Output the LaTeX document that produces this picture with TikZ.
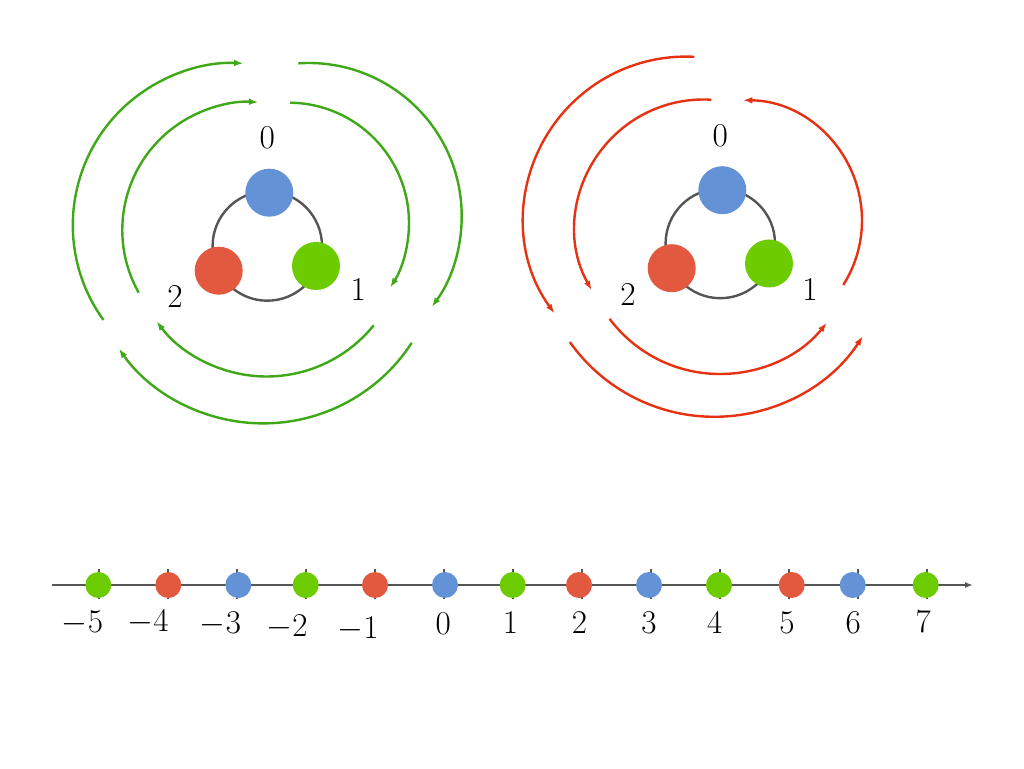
\documentclass[tikz,border=0pt]{standalone}
\usetikzlibrary{arrows.meta}
\definecolor{arcgreen}{RGB}{62,168,22}
\definecolor{arcred}{RGB}{230,50,18}
\definecolor{dotblue}{RGB}{100,146,214}
\definecolor{dotred}{RGB}{227,89,64}
\definecolor{dotgreen}{RGB}{108,204,0}
\definecolor{axisgray}{RGB}{85,85,85}
\begin{document}
\begin{tikzpicture}[x=0.75pt,y=0.75pt,
  bigdot/.style={circle,fill=#1,minimum size=36pt,inner sep=0pt},
  smalldot/.style={circle,fill=#1,minimum size=19.5pt,inner sep=0pt},
  lbl/.style={inner sep=0pt,font=\fontsize{25}{30}\selectfont},
  ringfwd/.style={line width=1.8pt,-{Latex[length=7pt,width=5pt]}},
  ringrev/.style={line width=1.8pt,{Latex[length=7pt,width=5pt]}-},
  hub/.style={draw=axisgray,line width=1.8pt}]
\useasboundingbox (0,0) rectangle (1024,768);

% ---------- left group ----------
\draw[hub] (267.3,522) circle[radius=54.7];
\node[bigdot=dotblue]  (Lb) at (269.3,575.3) {};
\node[bigdot=dotred]   (Lr) at (218.7,497.3) {};
\node[bigdot=dotgreen] (Lg) at (316,502) {};
\node[lbl] (L0) at (267.3,630) {0};
\node[lbl] (L1) at (358.3,479) {1};
\node[lbl] (L2) at (175,471.3) {2};
\begin{scope}[arcgreen]
\draw[ringfwd] (234.8,542.8) ++(215.8:162) arc[start angle=215.8,end angle=87,radius=162];
\draw[ringfwd] (308.7,552) ++(93.9:153) arc[start angle=93.9,end angle=-36.4,radius=153];
\draw[ringfwd] (263.3,521.6) ++(-33:177) arc[start angle=-33,end angle=-144.7,radius=177];
\draw[ringfwd] (250.3,538) ++(209.3:128) arc[start angle=209.3,end angle=86.4,radius=128];
\draw[ringfwd] (288.7,545) ++(89.4:120.3) arc[start angle=89.4,end angle=-32.4,radius=120.3];
\draw[ringfwd] (266.7,529) ++(-38.9:137.5) arc[start angle=-38.9,end angle=-143.2,radius=137.5];
\end{scope}

% ---------- right group ----------
\begin{scope}[shift={(453,2.5)}]
\draw[hub] (267.3,522) circle[radius=54.7];
\node[bigdot=dotblue]  (Rb) at (269.3,575.3) {};
\node[bigdot=dotred]   (Rr) at (218.7,497.3) {};
\node[bigdot=dotgreen] (Rg) at (316,502) {};
\node[lbl] (R0) at (267.3,630) {0};
\node[lbl] (R1) at (357,476) {1};
\node[lbl] (R2) at (175,471.3) {2};
\begin{scope}[arcred]
\draw[ringrev] (250.3,538) ++(209.3:128) arc[start angle=209.3,end angle=86.4,radius=128];
\draw[ringrev] (288.7,545) ++(89.4:120.3) arc[start angle=89.4,end angle=-32.4,radius=120.3];
\draw[ringrev] (266.7,529) ++(-38.9:137.5) arc[start angle=-38.9,end angle=-143.2,radius=137.5];
\end{scope}
\end{scope}
\begin{scope}[shift={(451,6.6)},arcred]
\draw[ringrev] (234.8,542.8) ++(215.8:162) arc[start angle=215.8,end angle=87,radius=162];
\draw[ringrev] (263.3,521.6) ++(-33:177) arc[start angle=-33,end angle=-144.7,radius=177];
\end{scope}

% ---------- number line ----------
\coordinate (nlA) at (52,183);
\coordinate (nlB) at (973,183);
\draw[axisgray,line width=1.8pt,-{Latex[length=6pt,width=4.5pt]}] (nlA) -- (nlB);
\foreach \k in {0,...,12}
  \draw[axisgray,line width=1.5pt] ({99.3+69*\k},169) -- ({99.3+69*\k},199);
\foreach \xx/\c/\n in {98.3/dotgreen/m5,168.3/dotred/m4,238.3/dotblue/m3,305.7/dotgreen/m2,375/dotred/m1,445/dotblue/z0,512.7/dotgreen/p1,579/dotred/p2,649/dotblue/p3,719/dotgreen/p4,791.7/dotred/p5,852.7/dotblue/p6,925.7/dotgreen/p7}
  \node[smalldot=\c] (d\n) at (\xx,183) {};
\node[lbl] (tm5) at (82.5,145) {$-5$};
\node[lbl] (tm4) at (148,146) {$-4$};
\node[lbl] (tm3) at (220.5,144) {$-3$};
\node[lbl] (tm2) at (287.2,141) {$-2$};
\node[lbl] (tm1) at (358,139) {$-1$};
\node[lbl] (t0) at (443.3,144) {$0$};
\node[lbl] (t1) at (510.5,145) {$1$};
\node[lbl] (t2) at (579.5,145) {$2$};
\node[lbl] (t3) at (649,145) {$3$};
\node[lbl] (t4) at (714.7,145) {$4$};
\node[lbl] (t5) at (787,145) {$5$};
\node[lbl] (t6) at (853.3,145) {$6$};
\node[lbl] (t7) at (923.3,146.3) {$7$};
\end{tikzpicture}
\end{document}
